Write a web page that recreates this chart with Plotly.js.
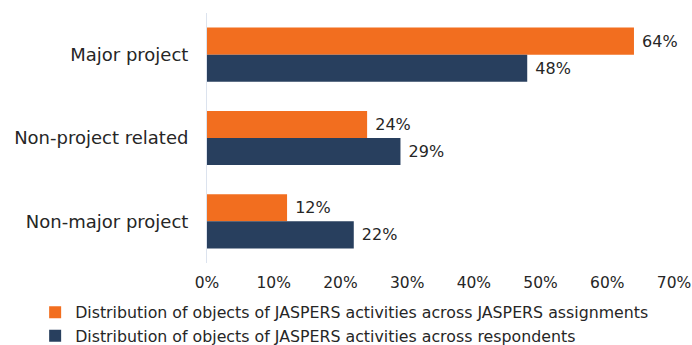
<!DOCTYPE html>
<html><head><meta charset="utf-8">
<script src="https://cdn.plot.ly/plotly-3.0.1.min.js"></script>
<style>html,body{margin:0;padding:0;background:#fff}#c{width:692px;height:345px}</style>
</head><body><div id="c"></div>
<script>
const categories = ["Major project", "Non-project related", "Non-major project"];
const assignments = [64, 24, 12];
const respondents = [48, 29, 22];
const seriesNames = ["Distribution of objects of JASPERS activities across JASPERS assignments",
                     "Distribution of objects of JASPERS activities across respondents"];
const tickVals = [0, 10, 20, 30, 40, 50, 60, 70];
const tickText = tickVals.map(v => v + "%");

const font = "Verdana, 'DejaVu Sans', sans-serif";
const mk = (vals, name, color) => ({
  type: "bar", orientation: "h", y: categories, x: vals, name: name,
  marker: {color: color},
  text: vals.map(v => "\u00a0" + v + "%"), textposition: "outside",
  textfont: {family: font, size: 16, color: "#262626"},
  cliponaxis: false, hoverinfo: "none"
});
const data = [mk(assignments, seriesNames[0], "#F26E1F"), mk(respondents, seriesNames[1], "#283F5E")];
const layout = {
  width: 692, height: 345,
  margin: {l: 207, r: 18, t: 13, b: 82, autoexpand: false},
  barmode: "group", bargap: 0.35, bargroupgap: 0,
  font: {family: font, size: 15, color: "#262626"},
  paper_bgcolor: "#fff", plot_bgcolor: "#fff",
  xaxis: {range: [0, 70], tickvals: tickVals, ticktext: tickText, showgrid: false,
          zeroline: false, showline: false, ticks: "", tickfont: {size: 15.5},
          automargin: false, tickangle: 0, ticklabelstandoff: 8},
  yaxis: {categoryorder: "array", categoryarray: categories, autorange: "reversed",
          showline: true, linecolor: "#DCE3EE", linewidth: 1, ticks: "",
          ticklabelstandoff: 14, tickfont: {size: 18}, automargin: false},
  showlegend: true,
  legend: {orientation: "v", x: -0.368, y: -0.13,
           xanchor: "left", yanchor: "top", font: {size: 15.8}, tracegroupgap: 0,
           itemwidth: 30, bgcolor: "rgba(0,0,0,0)"}
};
Plotly.newPlot("c", data, layout, {displayModeBar: false, staticPlot: true});
</script></body></html>
